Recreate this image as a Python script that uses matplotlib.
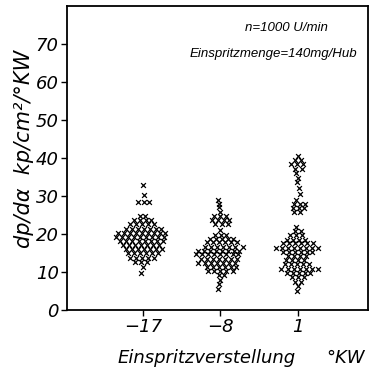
import matplotlib
matplotlib.use('Agg')
import matplotlib.pyplot as plt

# x positions (Einspritzverstellung, °KW)
positions = [-17, -8, 1]
tick_labels = ['\u221217', '\u22128', '1']

# each cluster: rows of (dp/dalpha value, offsets of the x marks around the position)
cluster_m17 = [
    (32.8, [0.0]),
    (30.3, [0.1]),
    (28.3, [-0.6, 0.1, 0.7]),
    (24.6, [-0.3, 0.3]),
    (23.6, [-1.0, -0.3, 0.4, 1.0]),
    (22.5, [-1.5, -0.8, -0.1, 0.6, 1.3]),
    (21.4, [-2.0, -1.3, -0.6, 0.1, 0.8, 1.5, 2.1]),
    (20.3, [-2.9, -2.2, -1.5, -0.8, -0.1, 0.6, 1.3, 2.0, 2.6]),
    (19.3, [-3.1, -2.4, -1.7, -1.0, -0.3, 0.4, 1.1, 1.8, 2.5]),
    (18.2, [-2.6, -1.9, -1.2, -0.5, 0.2, 0.9, 1.6, 2.3]),
    (17.1, [-2.3, -1.6, -0.9, -0.2, 0.5, 1.2, 1.9]),
    (16.0, [-2.0, -1.3, -0.6, 0.1, 0.8, 1.5, 2.2]),
    (14.9, [-1.7, -1.0, -0.3, 0.4, 1.1, 1.8]),
    (13.8, [-1.5, -0.8, -0.1, 0.6, 1.3]),
    (12.6, [-0.9, -0.2, 0.5]),
    (11.2, [0.0]),
    (9.8, [-0.2]),
]

cluster_m8 = [
    (29.0, [-0.3]),
    (28.0, [-0.2]),
    (27.0, [-0.2]),
    (25.8, [-0.1]),
    (24.6, [-0.8, -0.1, 0.6]),
    (23.6, [-1.0, -0.3, 0.4, 1.0]),
    (22.7, [-0.6, 0.2, 0.9]),
    (21.0, [0.0]),
    (19.8, [-0.6, 0.1, 0.7]),
    (18.8, [-1.2, -0.5, 0.2, 0.9, 1.5]),
    (17.8, [-1.6, -0.9, -0.2, 0.5, 1.2, 1.9]),
    (16.7, [-1.8, -1.1, -0.4, 0.3, 1.0, 1.7, 2.6]),
    (15.6, [-2.6, -1.9, -1.2, -0.5, 0.2, 0.9, 1.6, 2.2]),
    (14.6, [-2.8, -2.1, -1.4, -0.7, 0.0, 0.7, 1.4, 2.0]),
    (13.5, [-2.3, -1.6, -0.9, -0.2, 0.5, 1.2, 1.9]),
    (12.4, [-2.6, -1.8, -1.1, -0.4, 0.3, 1.0, 1.7]),
    (11.3, [-1.6, -0.9, -0.2, 0.5, 1.2, 1.8]),
    (10.2, [-1.4, -0.7, 0.0, 0.7, 1.4]),
    (9.1, [-0.2, 0.4]),
    (7.9, [-0.1]),
    (6.8, [-0.2]),
    (5.6, [-0.3]),
]

cluster_1 = [
    (40.5, [0.0]),
    (39.4, [-0.4, 0.3]),
    (38.3, [-0.8, -0.1, 0.6]),
    (37.2, [-0.3, 0.4]),
    (36.0, [-0.2]),
    (34.8, [0.0]),
    (33.6, [-0.1]),
    (32.0, [0.1]),
    (30.5, [0.2]),
    (29.0, [-0.2]),
    (27.8, [-0.5, 0.2, 0.8]),
    (26.8, [-0.6, 0.1, 0.7]),
    (25.8, [-0.5, 0.2]),
    (21.8, [-0.2]),
    (20.7, [-0.4, 0.3]),
    (19.6, [-0.9, -0.2, 0.5]),
    (18.5, [-1.3, -0.6, 0.1, 0.8]),
    (17.5, [-1.8, -1.1, -0.4, 0.3, 1.0, 1.7]),
    (16.4, [-2.6, -1.9, -1.2, -0.5, 0.2, 0.9, 1.6, 2.3]),
    (15.3, [-1.8, -1.1, -0.4, 0.3, 1.0, 1.6]),
    (14.2, [-1.2, -0.5, 0.2, 0.9]),
    (13.1, [-1.4, -0.7, 0.0, 0.7]),
    (12.0, [-1.5, -0.8, -0.1, 0.6, 1.3]),
    (10.9, [-2.0, -1.2, -0.5, 0.2, 0.9, 1.6, 2.3]),
    (9.8, [-1.3, -0.6, 0.1, 0.8, 1.4]),
    (8.6, [-0.7, 0.0, 0.7]),
    (7.4, [-0.3, 0.3]),
    (6.2, [0.0]),
    (5.0, [-0.1]),
]

clusters = [cluster_m17, cluster_m8, cluster_1]

fig = plt.figure(figsize=(3.72, 3.73), dpi=100)
ax = fig.add_axes([0.18, 0.169, 0.809, 0.815])

for pos, rows in zip(positions, clusters):
    xs, ys = [], []
    for val, offs in rows:
        for o in offs:
            xs.append(pos + o)
            ys.append(val)
    ax.scatter(xs, ys, marker='x', s=12, linewidths=0.9, color='black')

ax.set_xlim(-25.8, 9.1)
ax.set_ylim(0, 80)
ax.set_xticks(positions)
ax.set_xticklabels(tick_labels)
ax.set_yticks(range(0, 80, 10))

for s in ax.spines.values():
    s.set_linewidth(1.3)
ax.tick_params(direction='out', length=4, width=1, labelsize=13, pad=2)
for lbl in ax.get_xticklabels() + ax.get_yticklabels():
    lbl.set_fontstyle('italic')

fig.text(0.065, 0.60, 'dp/d\u03b1  kp/cm\u00b2/\u00b0KW', rotation=90, fontsize=15,
         style='italic', ha='center', va='center')
fig.text(0.555, 0.04, 'Einspritzverstellung', fontsize=13, style='italic',
         ha='center', va='center')
fig.text(0.93, 0.04, '\u00b0KW', fontsize=13, style='italic', ha='center', va='center')

narrow = ['Liberation Sans', 'DejaVu Sans']
fig.text(0.659, 0.925, 'n=1000 U/min', fontsize=9.5, family=narrow,
         style='italic', ha='left', va='center')
fig.text(0.96, 0.855, 'Einspritzmenge=140mg/Hub', fontsize=9.5, family=narrow,
         style='italic', ha='right', va='center')

fig.savefig('out.png', dpi=100)
